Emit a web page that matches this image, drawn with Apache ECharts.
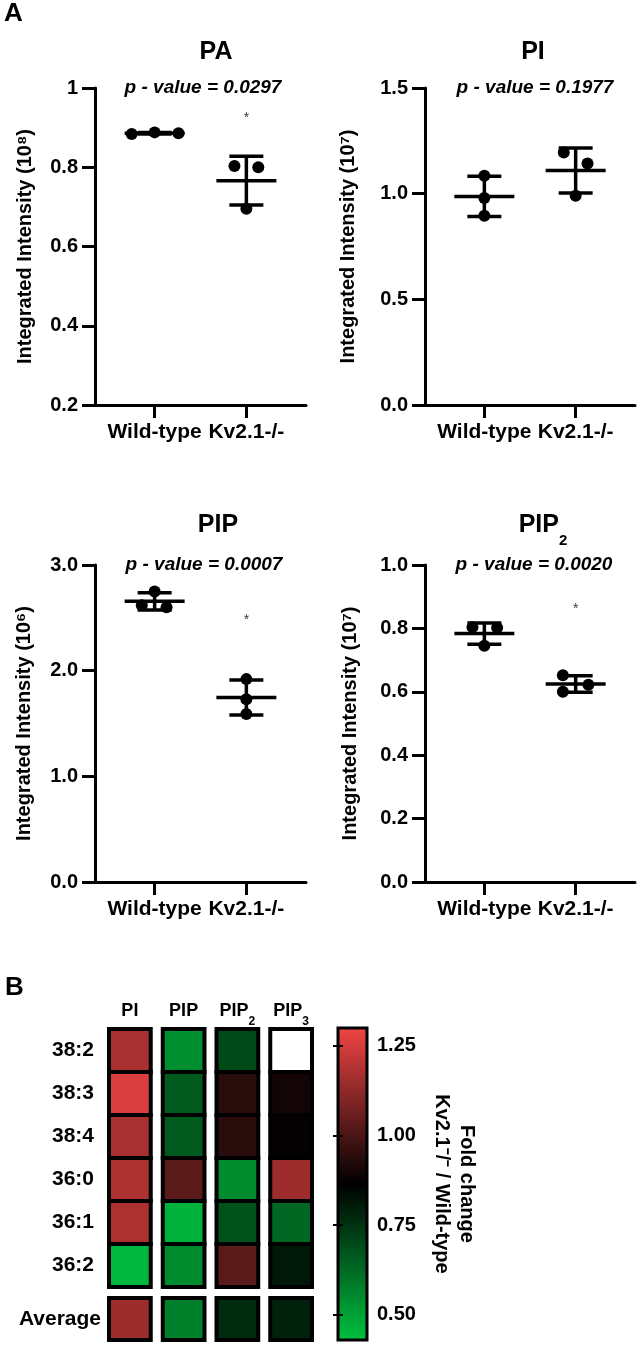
<!DOCTYPE html>
<html>
<head>
<meta charset="utf-8">
<script src="https://cdn.jsdelivr.net/npm/echarts/dist/echarts.min.js"></script>
<style>
  html, body { margin: 0; padding: 0; background: #fff; }
  #chart { width: 640px; height: 1348px; }
</style>
</head>
<body>
<div id="chart"></div>
<script>
// ---- data ----
const groups = ["Wild-type", "Kv2.1-/-"];
const lipids = ["PA", "PI", "PIP", "PIP{s|2}"];
const pValues = ["0.0297", "0.1977", "0.0007", "0.0020"];
const exponents = ["⁸", "⁷", "⁶", "⁷"]; // 10^x on the y axis name

const paWT = [0.884, 0.888, 0.886];
const paKO = [0.803, 0.800, 0.695];
const piWT = [1.085, 0.980, 0.895];
const piKO = [1.195, 1.143, 0.990];
const pipWT = [2.75, 2.62, 2.60];
const pipKO = [1.92, 1.73, 1.59];
const pip2WT = [0.804, 0.802, 0.745];
const pip2KO = [0.652, 0.600, 0.622];

// horizontal scatter of the dots inside each group (group units)
const paJitter = [[-0.25, 0, 0.26], [-0.13, 0.13, 0]];
const piJitter = [[0, 0, 0], [-0.13, 0.13, 0]];
const pipJitter = [[0, -0.14, 0.13], [0, 0, 0]];
const pip2Jitter = [[-0.13, 0.14, 0], [-0.14, -0.14, 0.14]];

const sigMarkY = [0.924, null, 2.48, 0.86]; // where the "*" sits

const yMin = [0.2, 0, 0, 0];
const yMax = [1, 1.5, 3, 1];
const yStep = [0.2, 0.5, 1, 0.2];

// heatmap B (fold change Kv2.1-/- / wild-type)
const heatRows = ["38:2", "38:3", "38:4", "36:0", "36:1", "36:2"];
const heatCols = ["PI", "PIP", "PIP{s|2}", "PIP{s|3}"];
const heatPI = [1.17, 1.26, 1.17, 1.18, 1.18, 0.45];
const heatPIP = [0.54, 0.66, 0.66, 1.03, 0.465, 0.55];
const heatPIP2 = [0.70, 0.94, 0.94, 0.55, 0.68, 1.03];
const heatPIP3 = [null, 0.90, 0.87, 1.15, 0.63, 0.81];
const heatAvg = [1.15, 0.575, 0.77, 0.79];
const foldTicks = [0.5, 0.75, 1.0, 1.25];
const foldMin = 0.43;
const foldMax = 1.30;

// ---- helpers ----
const FONT = 'Arial, "Liberation Sans", sans-serif';
const mean = arr => arr.reduce((s, v) => s + v, 0) / arr.length;
const sd = arr => {
  const m = mean(arr);
  return Math.sqrt(arr.reduce((s, v) => s + (v - m) * (v - m), 0) / (arr.length - 1));
};

const panelData = [[paWT, paKO], [piWT, piKO], [pipWT, pipKO], [pip2WT, pip2KO]];
const panelJitter = [paJitter, piJitter, pipJitter, pip2Jitter];
const grids = [
  { left: 95, top: 88, width: 211, height: 317 },
  { left: 425, top: 88, width: 210, height: 317 },
  { left: 95, top: 565, width: 211, height: 317 },
  { left: 425, top: 565, width: 210, height: 317 }
];
const nameGaps = [60, 67, 61, 65];
const titlePos = [[216, 52], [533, 52], [218, 525], [543, 525]];
const pPos = [[203, 88], [535, 88], [204, 565], [534, 565]];

// mean line + SD whiskers
function errorBar(params, api) {
  const x = api.value(0);
  const m = api.value(1);
  const s = api.value(2);
  const c = api.coord([x, m]);
  const hi = api.coord([x, m + s]);
  const lo = api.coord([x, m - s]);
  const style = { stroke: "#000", lineWidth: 3.5, fill: null };
  return {
    type: "group",
    children: [
      { type: "line", shape: { x1: c[0] - 30, y1: c[1], x2: c[0] + 30, y2: c[1] }, style },
      { type: "line", shape: { x1: c[0], y1: hi[1], x2: c[0], y2: lo[1] }, style },
      { type: "line", shape: { x1: c[0] - 17, y1: hi[1], x2: c[0] + 17, y2: hi[1] }, style },
      { type: "line", shape: { x1: c[0] - 17, y1: lo[1], x2: c[0] + 17, y2: lo[1] }, style }
    ]
  };
}

// one heatmap cell, narrower than its band so white gaps show between columns
function heatCell(params, api) {
  const v = api.value(2);
  const c = api.coord([api.value(0), api.value(1)]);
  const size = api.size([1, 1]);
  const w = size[0] - 12;
  const h = size[1];
  return {
    type: "rect",
    shape: { x: c[0] - w / 2, y: c[1] - h / 2, width: w, height: h },
    style: { fill: isNaN(v) ? "#fff" : api.visual("color"), stroke: "#000", lineWidth: 4 }
  };
}

const subRich = {
  s: { fontSize: 12, fontWeight: "bold", fontFamily: FONT, verticalAlign: "bottom", lineHeight: 34 }
};

const xAxis = [];
const yAxis = [];
const series = [];
const graphic = [];

panelData.forEach((pair, i) => {
  xAxis.push({
    type: "value",
    gridIndex: i,
    min: -0.65,
    max: 1.65,
    splitLine: { show: false },
    axisLine: { onZero: false, lineStyle: { color: "#000", width: 3 } },
    axisTick: { customValues: [0, 1], length: 13, lineStyle: { color: "#000", width: 3 } },
    axisLabel: {
      customValues: [0, 1],
      formatter: v => groups[Math.round(v)],
      margin: 17,
      color: "#000",
      fontSize: 21,
      fontWeight: "bold",
      fontFamily: FONT
    }
  });
  yAxis.push({
    type: "value",
    gridIndex: i,
    min: yMin[i],
    max: yMax[i],
    interval: yStep[i],
    name: "Integrated Intensity (10" + exponents[i] + ")",
    nameLocation: "middle",
    nameGap: nameGaps[i],
    nameTextStyle: { color: "#000", fontSize: 20, fontWeight: "bold", fontFamily: FONT },
    splitLine: { show: false },
    axisLine: { show: true, onZero: false, lineStyle: { color: "#000", width: 3 } },
    axisTick: { show: true, length: 13, lineStyle: { color: "#000", width: 3 } },
    axisLabel: {
      margin: 17,
      color: "#000",
      fontSize: 20,
      fontWeight: "bold",
      fontFamily: FONT,
      formatter: v => (i === 0 ? String(+v.toFixed(1)) : v.toFixed(1))
    }
  });

  const dots = [];
  pair.forEach((vals, g) => {
    vals.forEach((v, k) => dots.push([g + panelJitter[i][g][k], v]));
  });
  series.push({
    type: "scatter",
    xAxisIndex: i,
    yAxisIndex: i,
    symbolSize: 12,
    itemStyle: { color: "#000", opacity: 1 },
    z: 3,
    data: dots
  });
  series.push({
    type: "custom",
    xAxisIndex: i,
    yAxisIndex: i,
    renderItem: errorBar,
    encode: { x: 0, y: 1 },
    z: 2,
    data: pair.map((vals, g) => [g, mean(vals), sd(vals)])
  });
  series.push({
    type: "scatter",
    xAxisIndex: i,
    yAxisIndex: i,
    symbolSize: 1,
    itemStyle: { color: "rgba(0,0,0,0)" },
    label: {
      show: true,
      position: "inside",
      formatter: "*",
      color: "#000",
      fontSize: 14,
      fontFamily: FONT
    },
    data: sigMarkY[i] === null ? [] : [[1, sigMarkY[i]]]
  });

  graphic.push({
    type: "text",
    x: titlePos[i][0],
    y: titlePos[i][1],
    style: {
      text: lipids[i],
      fill: "#000",
      fontSize: 25,
      fontWeight: "bold",
      fontFamily: FONT,
      align: "center",
      verticalAlign: "middle",
      rich: { s: { fontSize: 15, fontWeight: "bold", fontFamily: FONT, verticalAlign: "bottom", lineHeight: 46 } }
    }
  });
  graphic.push({
    type: "text",
    x: pPos[i][0],
    y: pPos[i][1],
    style: {
      text: "p - value = " + pValues[i],
      fill: "#000",
      fontSize: 19,
      fontWeight: "bold",
      fontStyle: "italic",
      fontFamily: FONT,
      align: "center",
      verticalAlign: "middle"
    }
  });
});

// panel letters
graphic.push({ type: "text", x: 4, y: 14, style: { text: "A", fill: "#000", fontSize: 26, fontWeight: "bold", fontFamily: FONT, verticalAlign: "middle" } });
graphic.push({ type: "text", x: 5, y: 988, style: { text: "B", fill: "#000", fontSize: 26, fontWeight: "bold", fontFamily: FONT, verticalAlign: "middle" } });

// heatmap axes
const heatLabel = { color: "#000", fontSize: 21, fontWeight: "bold", fontFamily: FONT };
xAxis.push({
  type: "category",
  gridIndex: 4,
  position: "top",
  data: heatCols,
  axisLine: { show: false },
  axisTick: { show: false },
  axisLabel: {
    interval: 0,
    color: "#000",
    fontSize: 18,
    fontWeight: "bold",
    fontFamily: FONT,
    lineHeight: 34,
    margin: 1,
    rich: subRich
  }
});
yAxis.push({
  type: "category",
  gridIndex: 4,
  inverse: true,
  data: heatRows,
  axisLine: { show: false },
  axisTick: { show: false },
  axisLabel: Object.assign({ interval: 0, margin: 9 }, heatLabel)
});
xAxis.push({ type: "category", gridIndex: 5, data: heatCols, show: false });
yAxis.push({
  type: "category",
  gridIndex: 5,
  data: ["Average"],
  axisLine: { show: false },
  axisTick: { show: false },
  axisLabel: Object.assign({ margin: 2 }, heatLabel)
});

// colour bar scale (ticks drawn above the gradient)
xAxis.push({ type: "value", gridIndex: 6, min: 0, max: 1, show: false });
yAxis.push({
  type: "value",
  gridIndex: 6,
  position: "right",
  min: foldMin,
  max: foldMax,
  z: 12,
  splitLine: { show: false },
  axisLine: { show: false },
  axisTick: { show: true, inside: true, customValues: foldTicks, length: 5, lineStyle: { color: "#000", width: 2 } },
  axisLabel: {
    customValues: foldTicks,
    formatter: v => v.toFixed(2),
    margin: 10,
    color: "#000",
    fontSize: 20,
    fontWeight: "bold",
    fontFamily: FONT
  },
  name: "Fold change\nKv2.1⁻/⁻ / Wild-type",
  nameLocation: "middle",
  nameRotate: -90,
  nameGap: 62,
  nameTextStyle: { color: "#000", fontSize: 20, fontWeight: "bold", fontFamily: FONT, lineHeight: 25, align: "center" }
});
yAxis.push({
  type: "value",
  gridIndex: 6,
  position: "left",
  min: foldMin,
  max: foldMax,
  z: 12,
  splitLine: { show: false },
  axisLine: { show: false },
  axisLabel: { show: false },
  axisTick: { show: true, inside: true, customValues: foldTicks, length: 5, lineStyle: { color: "#000", width: 2 } }
});

const heatCells = [];
[heatPI, heatPIP, heatPIP2, heatPIP3].forEach((col, c) => {
  col.forEach((v, r) => heatCells.push([c, r, v === null ? "-" : v]));
});
const avgCells = heatAvg.map((v, c) => [c, 0, v]);

series.push({
  type: "custom",
  xAxisIndex: 4,
  yAxisIndex: 4,
  renderItem: heatCell,
  encode: { x: 0, y: 1 },
  data: heatCells
});
series.push({
  type: "custom",
  xAxisIndex: 5,
  yAxisIndex: 5,
  renderItem: heatCell,
  encode: { x: 0, y: 1 },
  data: avgCells
});

const chart = echarts.init(document.getElementById("chart"), null, { renderer: "canvas" });
chart.setOption({
  animation: false,
  backgroundColor: "#fff",
  grid: grids.concat([
    { left: 103, top: 1029, width: 215, height: 258 },
    { left: 103, top: 1298, width: 215, height: 42 },
    { left: 338, top: 1028, width: 29, height: 312, show: true, borderColor: "#000", borderWidth: 3, z: 10 }
  ]),
  xAxis,
  yAxis,
  visualMap: {
    type: "continuous",
    min: foldMin,
    max: foldMax,
    dimension: 2,
    seriesIndex: [12, 13],
    calculable: false,
    hoverLink: false,
    left: 338,
    top: 1028,
    padding: 0,
    itemWidth: 29,
    itemHeight: 312,
    text: null,
    inRange: { color: ["#00c040", "#000000", "#f04444"] }
  },
  graphic,
  series
});
</script>
</body>
</html>
